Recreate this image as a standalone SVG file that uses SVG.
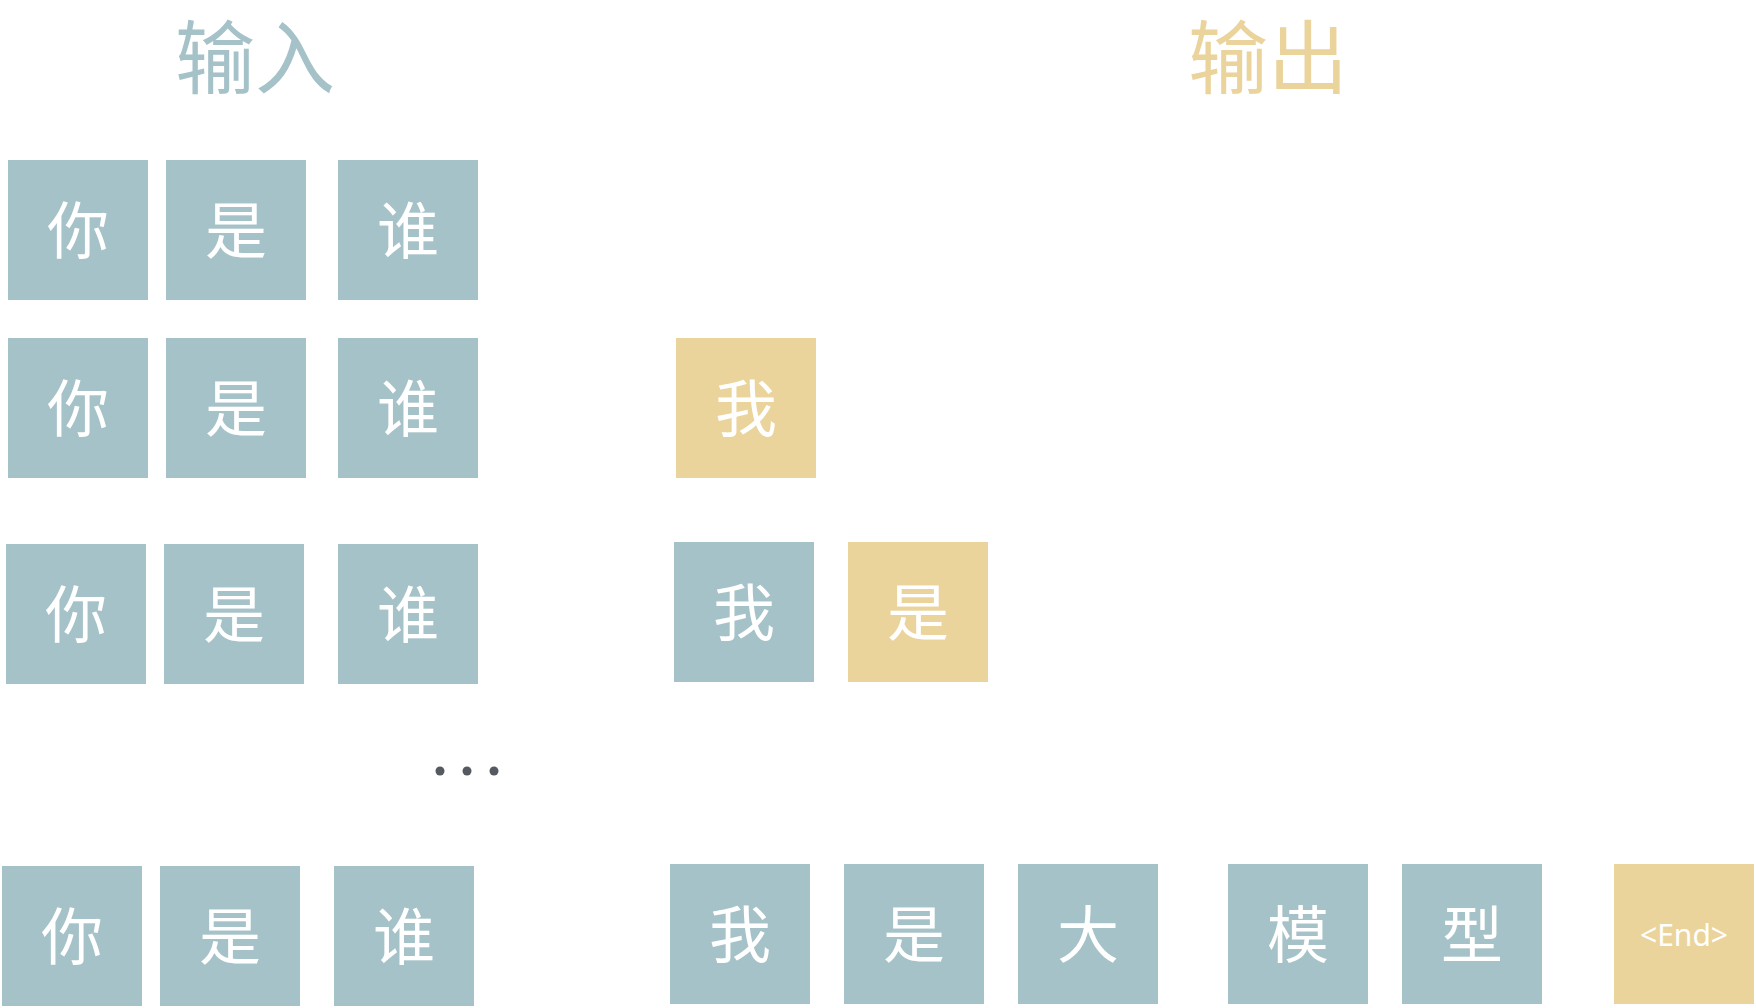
<svg xmlns="http://www.w3.org/2000/svg" width="1756" height="1008" viewBox="0 0 1756 1008">
<style>
.bg{fill:#ffffff}
.b{fill:#A5C2C8}
.y{fill:#EBD49B}
.t{font-family:"Noto Sans CJK SC","Noto Sans",sans-serif;font-size:62px;fill:#ffffff;text-anchor:middle;dominant-baseline:central}
.e{font-family:"Noto Sans","Open Sans",sans-serif;font-size:30px;fill:#ffffff;text-anchor:middle;dominant-baseline:central}
.h{font-family:"Noto Sans CJK SC","Noto Sans",sans-serif;font-size:80px;font-weight:400;text-anchor:middle;dominant-baseline:central}
.dot{fill:#555a60}
</style>
<rect class="bg" x="0" y="0" width="1756" height="1008"/>
<g id="title-input"><text class="h" x="255" y="52" fill="#A5C2C8">输入</text></g>
<g id="title-output"><text class="h" x="1268" y="52" fill="#EBD49B">输出</text></g>

<g id="r1-ni"><rect class="b" x="8" y="160" width="140" height="140"/><text class="t" x="78" y="227">你</text></g>
<g id="r1-shi"><rect class="b" x="166" y="160" width="140" height="140"/><text class="t" x="236" y="227">是</text></g>
<g id="r1-shui"><rect class="b" x="338" y="160" width="140" height="140"/><text class="t" x="408" y="227">谁</text></g>

<g id="r2-ni"><rect class="b" x="8" y="338" width="140" height="140"/><text class="t" x="78" y="405">你</text></g>
<g id="r2-shi"><rect class="b" x="166" y="338" width="140" height="140"/><text class="t" x="236" y="405">是</text></g>
<g id="r2-shui"><rect class="b" x="338" y="338" width="140" height="140"/><text class="t" x="408" y="405">谁</text></g>
<g id="r2-out-wo"><rect class="y" x="676" y="338" width="140" height="140"/><text class="t" x="746" y="405">我</text></g>

<g id="r3-ni"><rect class="b" x="6" y="544" width="140" height="140"/><text class="t" x="76" y="611">你</text></g>
<g id="r3-shi"><rect class="b" x="164" y="544" width="140" height="140"/><text class="t" x="234" y="611">是</text></g>
<g id="r3-shui"><rect class="b" x="338" y="544" width="140" height="140"/><text class="t" x="408" y="611">谁</text></g>
<g id="r3-in-wo"><rect class="b" x="674" y="542" width="140" height="140"/><text class="t" x="744" y="609">我</text></g>
<g id="r3-out-shi"><rect class="y" x="848" y="542" width="140" height="140"/><text class="t" x="918" y="609">是</text></g>

<g id="ellipsis"><circle class="dot" cx="440" cy="771" r="4.5"/><circle class="dot" cx="467" cy="771" r="4.5"/><circle class="dot" cx="494" cy="771" r="4.5"/></g>

<g id="r4-ni"><rect class="b" x="2" y="866" width="140" height="140"/><text class="t" x="72" y="933">你</text></g>
<g id="r4-shi"><rect class="b" x="160" y="866" width="140" height="140"/><text class="t" x="230" y="933">是</text></g>
<g id="r4-shui"><rect class="b" x="334" y="866" width="140" height="140"/><text class="t" x="404" y="933">谁</text></g>
<g id="r4-wo"><rect class="b" x="670" y="864" width="140" height="140"/><text class="t" x="740" y="931">我</text></g>
<g id="r4-shi2"><rect class="b" x="844" y="864" width="140" height="140"/><text class="t" x="914" y="931">是</text></g>
<g id="r4-da"><rect class="b" x="1018" y="864" width="140" height="140"/><text class="t" x="1088" y="931">大</text></g>
<g id="r4-mo"><rect class="b" x="1228" y="864" width="140" height="140"/><text class="t" x="1298" y="931">模</text></g>
<g id="r4-xing"><rect class="b" x="1402" y="864" width="140" height="140"/><text class="t" x="1472" y="931">型</text></g>
<g id="r4-end"><rect class="y" x="1614" y="864" width="140" height="140"/><text class="e" x="1684" y="934">&lt;End&gt;</text></g>

<g id="connectors"/>
</svg>
